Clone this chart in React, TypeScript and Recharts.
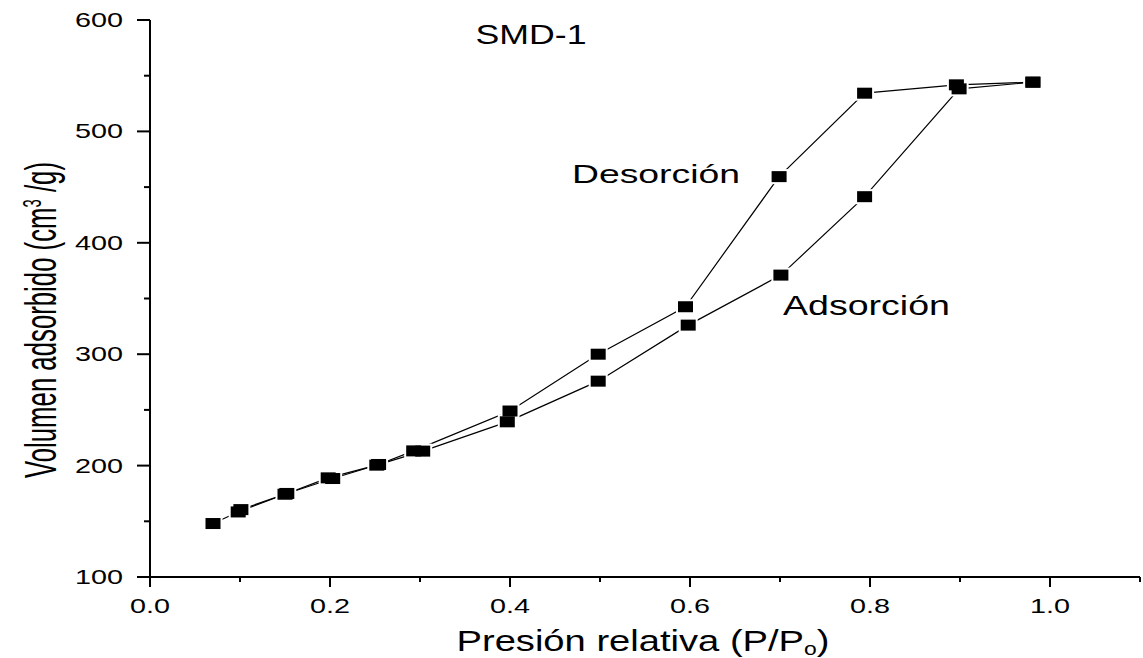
import { ScatterChart, Scatter, XAxis, YAxis, Customized } from 'recharts';

// Isoterma SMD-1: presión relativa vs volumen adsorbido
const adsP = [0.07, 0.098, 0.15, 0.198, 0.252, 0.303, 0.397, 0.498, 0.598, 0.701, 0.794, 0.899, 0.981];
const adsV = [148, 158.4, 174.3, 189, 200.4, 213, 239.3, 275.8, 326.1, 371, 441.4, 538.2, 544.2];
const desP = [0.981, 0.896, 0.794, 0.699, 0.595, 0.498, 0.4, 0.293, 0.254, 0.203, 0.152, 0.101];
const desV = [544.2, 541.8, 534.3, 459.4, 342.6, 300, 249, 213.2, 201, 188.4, 175, 160.5];

const xTicks = [0, 0.1, 0.2, 0.3, 0.4, 0.5, 0.6, 0.7, 0.8, 0.9, 1.0, 1.1];
const yTicks = [100, 150, 200, 250, 300, 350, 400, 450, 500, 550, 600];

const FONT = '"Liberation Sans", Arial, sans-serif';

const adsData = adsP.map((p, i) => ({ p, v: adsV[i] }));
const desData = desP.map((p, i) => ({ p, v: desV[i] }));

const XTick = ({ x, y, payload }: any) => {
  const val = payload.value as number;
  const major = Math.round(val * 10) % 2 === 0;
  return (
    <g>
      <line x1={x} x2={x} y1={y} y2={y + (major ? 10 : 5)} stroke="#000" strokeWidth={2} />
      {major && (
        <text
          transform={`translate(${x},${y + 36}) scale(1.44,1)`}
          textAnchor="middle"
          fontSize={20}
          fontFamily={FONT}
          fill="#000"
        >
          {val.toFixed(1)}
        </text>
      )}
    </g>
  );
};

const YTick = ({ x, y, payload }: any) => {
  const val = payload.value as number;
  const major = val % 100 === 0;
  return (
    <g>
      <line x1={x} x2={x - (major ? 13 : 6)} y1={y} y2={y} stroke="#000" strokeWidth={2} />
      {major && (
        <text
          transform={`translate(${x - 27},${y + 7}) scale(1.44,1)`}
          textAnchor="end"
          fontSize={20}
          fontFamily={FONT}
          fill="#000"
        >
          {val}
        </text>
      )}
    </g>
  );
};

const noShape = () => <g />;
const halo = (p: any) => <rect x={p.cx - 9.5} y={p.cy - 7.5} width={19} height={15} fill="#fff" />;
const square = (p: any) => <rect x={p.cx - 7.5} y={p.cy - 5.5} width={15} height={11} fill="#000" />;

const Annotations = () => (
  <g fontFamily={FONT} fill="#000">
    <text x={531} y={44} textAnchor="middle" fontSize={27} textLength={111} lengthAdjust="spacingAndGlyphs">
      SMD-1
    </text>
    <text x={572} y={183} fontSize={26} textLength={168} lengthAdjust="spacingAndGlyphs">
      Desorción
    </text>
    <text x={783} y={315} fontSize={27} textLength={167} lengthAdjust="spacingAndGlyphs">
      Adsorción
    </text>
    <text
      x={643}
      y={651}
      textAnchor="middle"
      fontSize={30}
      textLength={373}
      lengthAdjust="spacingAndGlyphs"
    >
      Presión relativa (P/P
      <tspan fontSize={18} dy={4}>o</tspan>
      <tspan dy={-4}>)</tspan>
    </text>
    <text
      transform="translate(56,320) rotate(-90)"
      textAnchor="middle"
      fontSize={45}
      textLength={316}
      lengthAdjust="spacingAndGlyphs"
    >
      Volumen adsorbido (cm
      <tspan fontSize={26} dy={-15}>3</tspan>
      <tspan dy={15}> /g)</tspan>
    </text>
  </g>
);

export default function App() {
  return (
    <div style={{ position: 'absolute', left: 0, top: 0, background: '#fff' }}>
      <ScatterChart width={1143} height={658} margin={{ top: 20, right: 3, bottom: 21, left: 0 }}>
        <XAxis
          type="number"
          dataKey="p"
          domain={[0, 1.1]}
          ticks={xTicks}
          interval={0}
          height={60}
          tickSize={0}
          tickMargin={0}
          tickLine={false}
          tick={<XTick />}
          axisLine={{ stroke: '#000', strokeWidth: 2 }}
          allowDataOverflow
        />
        <YAxis
          type="number"
          dataKey="v"
          domain={[100, 600]}
          ticks={yTicks}
          interval={0}
          width={150}
          tickSize={0}
          tickMargin={0}
          tickLine={false}
          tick={<YTick />}
          axisLine={{ stroke: '#000', strokeWidth: 2 }}
          allowDataOverflow
        />
        <Scatter data={adsData} line={{ stroke: '#000', strokeWidth: 1.2 }} shape={noShape} isAnimationActive={false} />
        <Scatter data={desData} line={{ stroke: '#000', strokeWidth: 1.2 }} shape={noShape} isAnimationActive={false} />
        <Scatter data={adsData} shape={halo} isAnimationActive={false} />
        <Scatter data={desData} shape={halo} isAnimationActive={false} />
        <Scatter data={adsData} shape={square} isAnimationActive={false} />
        <Scatter data={desData} shape={square} isAnimationActive={false} />
        <Customized component={Annotations} />
      </ScatterChart>
    </div>
  );
}
